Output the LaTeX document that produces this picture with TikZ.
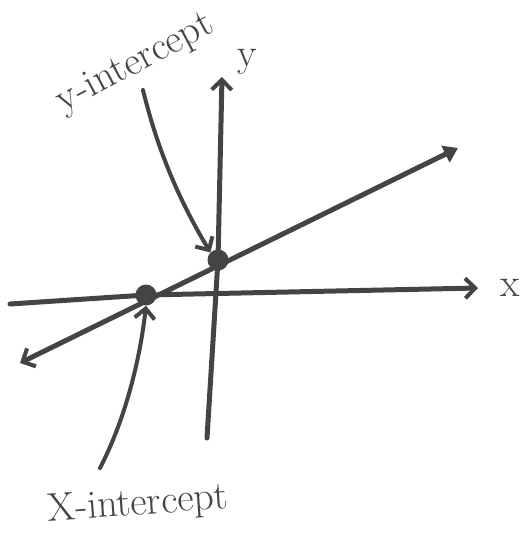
\documentclass[tikz,border=0pt]{standalone}
\usetikzlibrary{arrows.meta}
\definecolor{ink}{HTML}{444444}
\begin{document}
\begin{tikzpicture}[x=1pt,y=-1pt,
  stroke/.style={draw=ink,line width=5pt,line cap=round,line join=round},
  barb/.style={-{Straight Barb[length=10pt,width=20pt,line width=4pt]}},
  barbs/.style={{Straight Barb[length=10pt,width=20pt,line width=4pt]}-{Triangle[length=14pt,width=18pt]}},
  dotnode/.style={circle,fill=ink,inner sep=0pt,minimum size=21pt},
  lbl/.style={text=ink,font=\fontsize{40}{44}\selectfont,inner sep=0pt}]
\useasboundingbox[fill=white] (0,0) rectangle (530,552);
% coordinates
\coordinate (xl) at (10,304);
\coordinate (xr) at (478,288);
\coordinate (yb) at (207,438);
\coordinate (yt) at (222,77);
\coordinate (ll) at (20,363);
\coordinate (lr) at (458,148);
\node[dotnode] (xint) at (146,295) {};
\node[dotnode] (yint) at (218,260) {};
% axes
\draw[stroke,barb] (xl) -- (xint.center) -- (xr);
\draw[stroke,barb] (yb) -- (yint.center) -- (yt);
% line
\draw[stroke,barbs] (ll) -- (lr);
% labels
\node[lbl] (xlab) at (510,288) {x};
\node[lbl] (ylab) at (247,62) {y};
\node[lbl,rotate=28] (ytxt) at (136,64) {y-intercept};
\node[lbl,rotate=4] (xtxt) at (138,505) {X-intercept};
% pointers
\coordinate (ys) at (143,90);
\coordinate (xs) at (100,468);
\draw[stroke,line width=4pt,barb] (ys) .. controls (160,160) and (185,210) .. (yint.north west);
\draw[stroke,line width=4pt,barb] (xs) .. controls (125,420) and (140,360) .. (xint.south);
\end{tikzpicture}
\end{document}
